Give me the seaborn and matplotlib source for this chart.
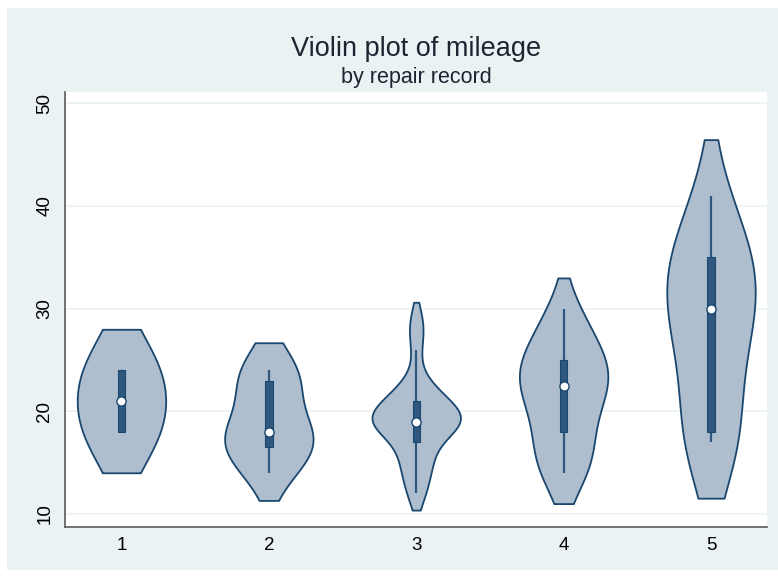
"""
plot.py — Violin plot of mileage by repair record (Stata vioplot look)
Saves out.png, 778x576.
"""

import numpy as np
import pandas as pd
import matplotlib
matplotlib.use("Agg")
import matplotlib.pyplot as plt
from matplotlib.patches import Rectangle
import seaborn as sns


# ─────────────────────────────────────────────────────────────────────────────
# Data — mpg per car, grouped by repair record
# ─────────────────────────────────────────────────────────────────────────────

rep_levels = [1, 2, 3, 4, 5]

mpg_rep1 = [24, 18]
mpg_rep2 = [14, 22, 24, 18, 16, 17, 18, 24]
mpg_rep3 = [22, 17, 20, 18, 20, 16, 19, 14, 21, 29,
            22, 19, 21, 12, 12, 14, 15, 18, 20, 19,
            19, 19, 16, 28, 19, 19, 19, 23, 21, 26]
mpg_rep4 = [15, 16, 28, 22, 14, 14, 21, 18, 18, 25,
            23, 24, 21, 28, 30, 23, 25, 25]
mpg_rep5 = [30, 34, 17, 35, 25, 35, 18, 31, 27, 41, 17]

y_ticks = [10, 20, 30, 40, 50]

TITLE = "Violin plot of mileage"
SUBTITLE = "by repair record"


# ─────────────────────────────────────────────────────────────────────────────
# Styling
# ─────────────────────────────────────────────────────────────────────────────

sns.set_style("white")
plt.rcParams["font.family"] = ["Liberation Sans", "DejaVu Sans"]

NAVY = "#1A476F"
FILL = "#AEBECE"
BOX = "#30587F"
BG = "#EAF2F3"
AXIS = "#5A5A5A"
TEXT = "#1E2430"


# ─────────────────────────────────────────────────────────────────────────────
# Stata-style statistics
# ─────────────────────────────────────────────────────────────────────────────

def stata_pctile(values, p):
    """Percentile dengan definisi default Stata (bukan interpolasi linear)."""
    v = np.sort(np.asarray(values, dtype=float))
    w = len(v) * p / 100
    if float(w).is_integer():
        k = int(w)
        return (v[k - 1] + v[k]) / 2
    return v[int(np.ceil(w)) - 1]


def stata_bw(kde):
    """Bandwidth kdensity Stata: 0.9 * min(sd, iqr/1.349) * n^-1/5."""
    x = kde.dataset.ravel()
    sd = x.std(ddof=1)
    iqr = stata_pctile(x, 75) - stata_pctile(x, 25)
    m = min(sd, iqr / 1.349)
    return 0.9 * m * x.size ** -0.2 / sd


def box_stats(values):
    v = np.sort(np.asarray(values, dtype=float))
    q1, med, q3 = (stata_pctile(v, p) for p in (25, 50, 75))
    iqr = q3 - q1
    lo = v[v >= q1 - 1.5 * iqr].min()
    hi = v[v <= q3 + 1.5 * iqr].max()
    return lo, q1, med, q3, hi


# ─────────────────────────────────────────────────────────────────────────────
# Plot
# ─────────────────────────────────────────────────────────────────────────────

def main():
    groups = [mpg_rep1, mpg_rep2, mpg_rep3, mpg_rep4, mpg_rep5]
    df = pd.DataFrame({
        "rep78": np.repeat(rep_levels, [len(g) for g in groups]),
        "mpg": np.concatenate(groups),
    })

    fig = plt.figure(figsize=(7.78, 5.76), dpi=100, facecolor="white")
    fig.patches.append(Rectangle(
        (7 / 778, 6 / 576), 771 / 778, 562 / 576,
        transform=fig.transFigure, facecolor=BG, edgecolor="none", zorder=-10,
    ))

    ax = fig.add_axes([65 / 778, 1 - 526.7 / 576, 702 / 778, 435 / 576])
    ax.set_facecolor("white")

    # Gaussian kernel lebih lebar sedikit untuk meniru Epanechnikov Stata
    sns.violinplot(
        data=df, x="rep78", y="mpg", order=rep_levels,
        color=FILL, saturation=1, linecolor=NAVY, linewidth=1.3,
        width=0.6, density_norm="width", bw_method=stata_bw, bw_adjust=1.2,
        cut=1.0, gridsize=250, inner=None, ax=ax,
    )

    # box, whisker, median
    for i, g in enumerate(groups):
        lo, q1, med, q3, hi = box_stats(g)
        ax.plot([i, i], [lo, hi], color=BOX, lw=1.6,
                solid_capstyle="butt", zorder=3)
        ax.bar(i, q3 - q1, bottom=q1, width=0.05, color=BOX,
               edgecolor=NAVY, linewidth=0.8, zorder=4)
        ax.scatter(i, med, s=44, facecolor="white", edgecolor=NAVY,
                   linewidth=1.0, zorder=5)

    ax.set_xlim(-0.383, 4.38)
    ax.set_ylim(8.76, 51.13)
    ax.set_yticks(y_ticks)
    ax.set_xlabel("")
    ax.set_ylabel("")

    ax.yaxis.grid(True, color=BG, linewidth=1.2)
    ax.xaxis.grid(False)
    ax.set_axisbelow(True)

    for side in ("top", "right"):
        ax.spines[side].set_visible(False)
    for side in ("left", "bottom"):
        ax.spines[side].set_color(AXIS)
        ax.spines[side].set_linewidth(1.2)

    ax.tick_params(axis="y", length=5, width=1, color=AXIS, pad=3.5,
                   labelsize=13.5, labelcolor="black", labelrotation=90)
    for lab in ax.get_yticklabels():
        lab.set_va("center")
    ax.tick_params(axis="x", length=0, pad=7.5, labelsize=13.5,
                   labelcolor="black")

    xc = (65 + 767) / 2 / 778
    fig.text(xc, 1 - 55.5 / 576, TITLE, ha="center", va="baseline",
             fontsize=19.5, color=TEXT)
    fig.text(xc, 1 - 83.3 / 576, SUBTITLE, ha="center", va="baseline",
             fontsize=15.5, color=TEXT)

    fig.savefig("out.png", dpi=100, facecolor=fig.get_facecolor())


if __name__ == "__main__":
    main()
